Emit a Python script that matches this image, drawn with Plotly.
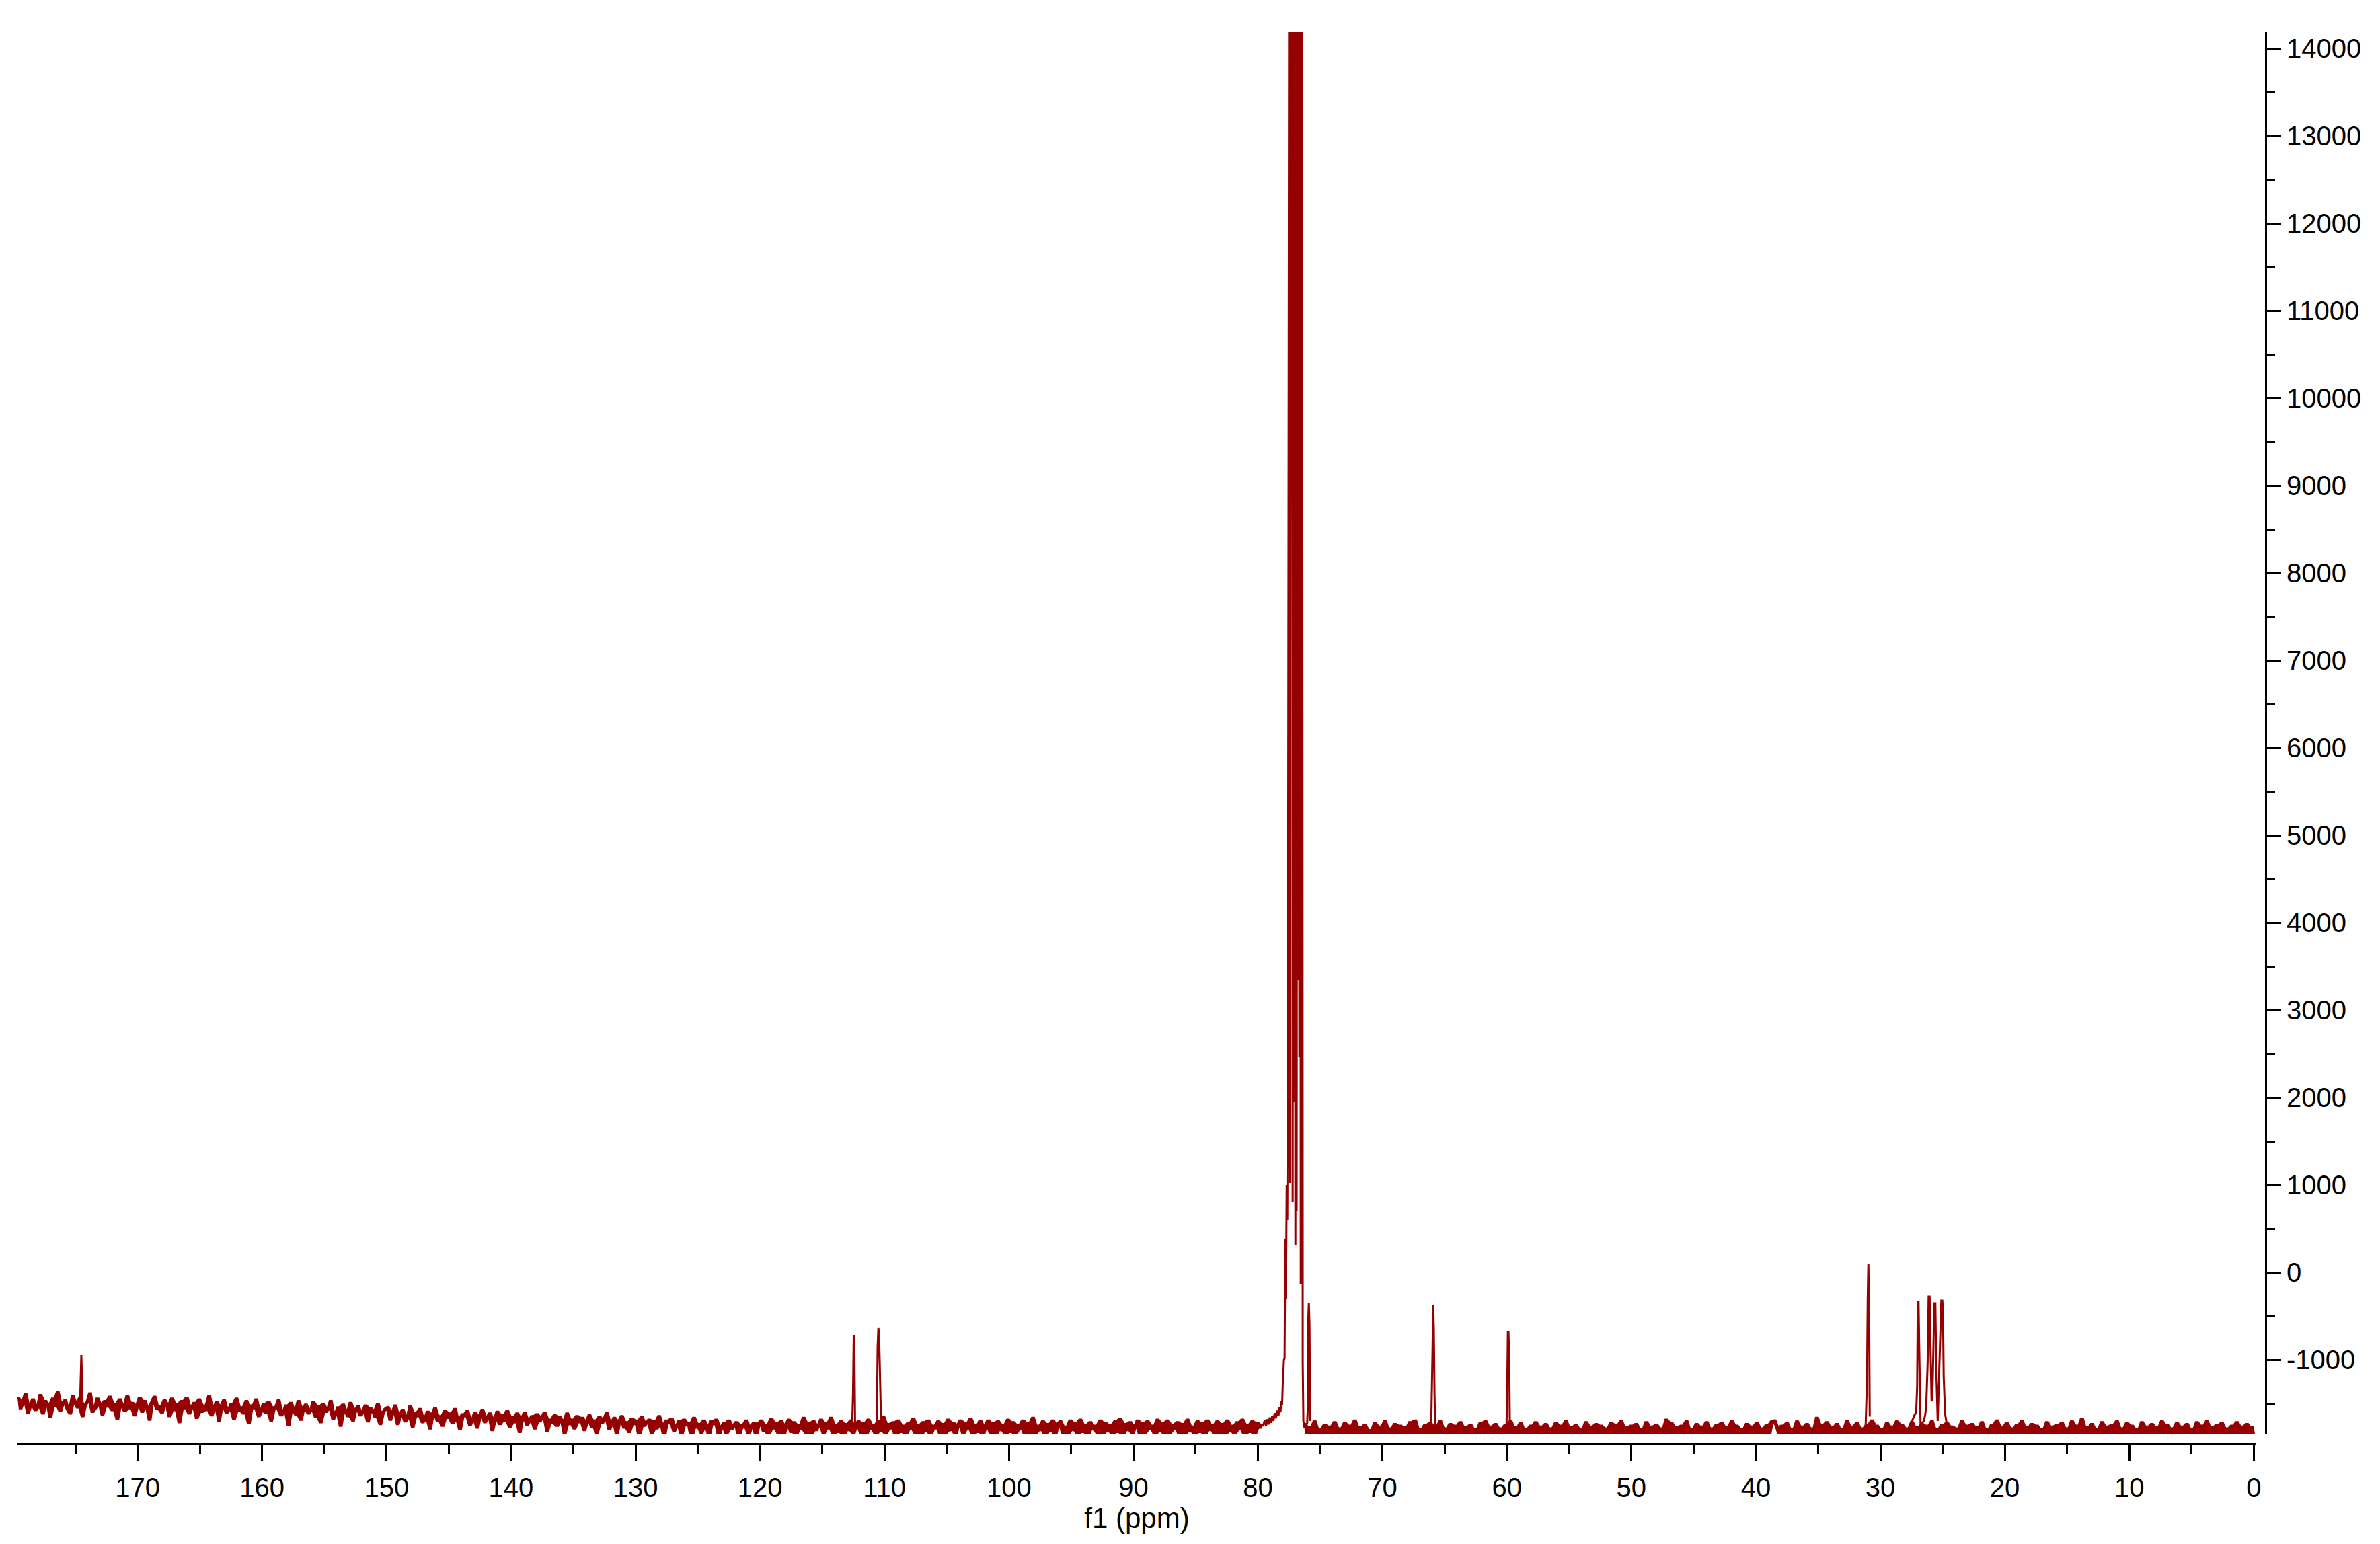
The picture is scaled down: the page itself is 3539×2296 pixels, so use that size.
import numpy as np
import plotly.graph_objects as go

# ---------------- data ----------------
# baseline noise samples, 179.6 -> 150.1 ppm
noise_a1 = [
    -1430, -1560, -1480, -1390, -1610, -1520, -1450, -1580, -1540, -1400, -1620, -1470, -1510, -1660, -1440, -1530, -1370, -1590, -1500, -1460,
    -1570, -1620, -1410, -1490, -1550, -1430, -1650, -1520, -1480, -1380, -1600, -1560, -1440, -1510, -1630, -1470, -1540, -1420, -1580, -1500,
    -1680, -1450, -1530, -1590, -1410, -1560, -1490, -1640, -1520, -1430, -1600, -1470, -1550, -1690, -1480, -1420, -1570, -1530, -1610, -1460,
    -1510, -1650, -1440, -1580, -1500, -1720, -1470, -1560, -1430, -1620, -1540, -1490, -1670, -1450, -1600, -1520, -1580, -1410, -1640, -1550,
    -1480, -1700, -1530, -1460, -1610, -1570, -1500, -1680, -1440, -1590, -1540, -1620, -1470, -1730, -1520, -1560, -1450, -1650, -1590, -1500,
    -1610, -1480, -1700, -1540, -1570, -1460, -1640, -1600, -1520, -1750, -1490, -1580, -1630, -1470, -1690, -1550, -1510, -1620, -1580, -1480,
    -1660, -1530, -1720, -1500, -1600, -1560, -1470, -1680, -1620, -1540, -1760, -1510, -1590, -1650, -1490, -1700, -1570, -1530, -1640, -1600,
    -1520, -1710, -1550, -1580, -1660, -1500, -1740, -1610, -1560,
]
# baseline noise samples, 149.9 -> 120.1 ppm
noise_a2 = [
    -1540, -1690, -1600, -1520, -1740, -1630, -1570, -1710, -1660, -1530, -1770, -1600, -1650, -1560, -1720, -1680, -1590, -1790, -1620, -1550,
    -1700, -1640, -1760, -1580, -1670, -1610, -1730, -1560, -1690, -1800, -1620, -1650, -1580, -1750, -1700, -1600, -1780, -1640, -1570, -1720,
    -1660, -1610, -1810, -1680, -1590, -1740, -1630, -1700, -1580, -1770, -1650, -1720, -1610, -1830, -1670, -1600, -1750, -1690, -1640, -1790,
    -1620, -1710, -1660, -1600, -1820, -1680, -1730, -1630, -1760, -1650, -1700, -1850, -1610, -1740, -1680, -1790, -1640, -1720, -1660, -1810,
    -1700, -1630, -1770, -1690, -1840, -1650, -1730, -1680, -1600, -1800, -1720, -1660, -1860, -1700, -1640, -1780, -1710, -1830, -1670, -1740,
    -1690, -1870, -1650, -1760, -1720, -1680, -1850, -1700, -1790, -1640, -1740, -1880, -1690, -1730, -1670, -1820, -1760, -1700, -1860, -1680,
    -1750, -1720, -1890, -1660, -1780, -1730, -1840, -1690, -1760, -1870, -1700, -1740, -1680, -1880, -1770, -1720, -1850, -1690, -1800, -1750,
    -1710, -1890, -1740, -1780, -1690, -1860, -1760, -1720, -1880, -1730,
]
# baseline noise samples, 119.9 -> 79.65 ppm
noise_a3 = [
    -1690, -1820, -1740, -1860, -1670, -1790, -1720, -1850, -1700, -1880, -1750, -1680, -1830, -1710, -1860, -1740, -1800, -1660, -1840, -1720,
    -1870, -1700, -1810, -1750, -1680, -1850, -1720, -1790, -1660, -1860, -1740, -1830, -1700, -1880, -1730, -1810, -1690, -1850, -1760, -1700,
    -1840, -1720, -1870, -1680, -1800, -1740, -1860, -1700, -1820, -1650, -1850, -1730, -1790, -1710, -1880, -1690, -1830, -1750, -1860, -1720,
    -1800, -1670, -1850, -1740, -1880, -1710, -1820, -1690, -1860, -1750, -1790, -1700, -1870, -1730, -1840, -1680, -1810, -1720, -1860, -1740,
    -1690, -1850, -1720, -1800, -1670, -1870, -1740, -1830, -1700, -1860, -1760, -1690, -1840, -1720, -1880, -1700, -1810, -1740, -1850, -1680,
    -1830, -1710, -1860, -1740, -1800, -1690, -1870, -1720, -1840, -1660, -1850, -1750, -1810, -1700, -1880, -1730, -1820, -1690, -1860, -1740,
    -1700, -1840, -1760, -1870, -1690, -1810, -1720, -1860, -1680, -1830, -1740, -1880, -1710, -1800, -1750, -1850, -1690, -1870, -1720, -1820,
    -1740, -1860, -1700, -1830, -1670, -1880, -1730, -1810, -1710, -1850, -1760, -1690, -1870, -1720, -1840, -1700, -1800, -1750, -1860, -1680,
    -1820, -1720, -1870, -1690, -1840, -1740, -1800, -1710, -1880, -1730, -1850, -1680, -1820, -1760, -1860, -1700, -1830, -1720, -1870, -1690,
    -1810, -1740, -1860, -1700, -1840, -1730, -1880, -1690, -1820, -1750, -1850, -1710, -1800, -1680, -1870, -1740, -1830, -1700, -1860, -1720,
    -1780, -1740,
]
# baseline noise samples, 76.25 -> 38.1 ppm
noise_b1 = [
    -1730, -1860, -1770, -1880, -1700, -1850, -1790, -1870, -1740, -1890, -1760, -1840, -1710, -1880, -1780, -1860, -1720, -1870, -1750, -1890,
    -1690, -1850, -1770, -1880, -1740, -1860, -1800, -1870, -1720, -1890, -1760, -1850, -1700, -1880, -1780, -1860, -1730, -1870, -1750, -1880,
    -1770, -1850, -1710, -1870, -1690, -1860, -1790, -1880, -1740, -1850, -1720, -1890, -1760, -1860, -1700, -1870, -1780, -1850, -1730, -1880,
    -1750, -1860, -1710, -1890, -1770, -1850, -1740, -1870, -1790, -1860, -1720, -1880, -1700, -1850, -1760, -1870, -1730, -1890, -1780, -1860,
    -1740, -1850, -1700, -1880, -1770, -1860, -1720, -1870, -1790, -1850, -1750, -1890, -1710, -1860, -1760, -1880, -1730, -1850, -1780, -1870,
    -1720, -1860, -1750, -1890, -1700, -1850, -1770, -1880, -1740, -1860, -1790, -1870, -1710, -1850, -1760, -1880, -1730, -1890, -1750, -1860,
    -1780, -1850, -1720, -1870, -1740, -1880, -1700, -1860, -1770, -1890, -1750, -1850, -1730, -1870, -1790, -1860, -1710, -1880, -1760, -1850,
    -1740, -1870, -1780, -1890, -1680, -1860, -1720, -1850, -1770, -1880, -1750, -1870, -1700, -1860, -1790, -1890, -1730, -1850, -1760, -1880,
    -1710, -1870, -1780, -1860, -1740, -1890, -1720, -1850, -1770, -1880, -1700, -1860, -1750, -1870, -1790, -1850, -1730, -1890, -1760, -1870,
    -1720, -1860, -1780, -1880, -1740, -1850, -1700, -1690, -1770, -1860,
]
# baseline noise samples, 37.9 -> -0.05 ppm
noise_b2 = [
    -1750, -1870, -1720, -1880, -1790, -1850, -1700, -1890, -1760, -1860, -1730, -1880, -1780, -1850, -1660, -1870, -1740, -1890, -1710, -1860,
    -1770, -1880, -1730, -1850, -1790, -1870, -1700, -1890, -1760, -1860, -1720, -1880, -1780, -1850, -1740, -1870, -1690, -1890, -1750, -1860,
    -1790, -1880, -1720, -1850, -1760, -1870, -1700, -1890, -1740, -1860, -1780, -1880, -1710, -1850, -1770, -1870, -1730, -1890, -1750, -1860,
    -1700, -1880, -1790, -1850, -1740, -1870, -1720, -1890, -1760, -1860, -1780, -1880, -1700, -1850, -1750, -1870, -1730, -1890, -1770, -1860,
    -1710, -1880, -1790, -1850, -1740, -1870, -1690, -1890, -1760, -1860, -1720, -1880, -1780, -1850, -1740, -1870, -1700, -1890, -1770, -1860,
    -1730, -1880, -1750, -1850, -1790, -1870, -1710, -1890, -1760, -1860, -1740, -1880, -1720, -1850, -1780, -1870, -1700, -1890, -1750, -1860,
    -1670, -1880, -1770, -1850, -1730, -1870, -1790, -1890, -1710, -1860, -1760, -1880, -1740, -1850, -1700, -1870, -1780, -1890, -1720, -1860,
    -1750, -1880, -1790, -1850, -1710, -1870, -1760, -1890, -1730, -1860, -1770, -1880, -1700, -1850, -1740, -1870, -1780, -1890, -1720, -1860,
    -1760, -1880, -1730, -1850, -1790, -1870, -1710, -1890, -1750, -1860, -1700, -1880, -1770, -1850, -1740, -1870, -1720, -1890, -1780, -1860,
    -1750, -1880, -1710, -1850, -1760, -1870, -1730, -1890, -1770, -1860,
]
# ppm spans of the noise arrays; a1..a3 and b1..b2 are contiguous stretches
noise_stretches = [
    [((179.60, 150.10), noise_a1), ((149.90, 120.10), noise_a2), ((119.90, 79.65), noise_a3)],
    [((76.25, 38.10), noise_b1), ((37.90, -0.05), noise_b2)],
]

# CDCl3 solvent multiplet and its wing
solvent_ppm = [79.65, 79.55, 79.45, 79.35, 79.25, 79.15, 79.05, 78.95, 78.85, 78.75, 78.65, 78.55, 78.45, 78.35, 78.27,
               78.19, 78.12, 78.06, 78.01, 77.96, 77.91, 77.86, 77.80, 77.75, 77.69, 77.64, 77.59, 77.53, 77.48,
               77.43, 77.37, 77.32, 77.26, 77.21, 77.15, 77.10, 77.05, 76.99, 76.94, 76.89, 76.83, 76.78, 76.72,
               76.67, 76.61, 76.56, 76.51, 76.45, 76.40, 76.35, 76.25]
solvent_val = [-1760, -1740, -1690, -1760, -1680, -1740, -1660, -1720, -1640, -1700, -1610, -1670, -1580, -1640, -1540,
               -1600, -1470, -1520, -1300, -1190, -1000, -985, 377, -300, 1000, 600, 2500, 10138, 16500,
               1023, 16500, 11530, 16500, 800, 16500, 1954, 16500, 315, 16500, 700, 16500, 3338, 16500,
               2462, 16500, -130, 16500, 13177, -1040, -1700, -1780]

# sample peaks
peak_174_ppm = [174.62, 174.57, 174.52, 174.47, 174.42]
peak_174_val = [-1480, -1200, -946, -1220, -1540]
peak_112_ppm = [112.60, 112.53, 112.47, 112.42, 112.36]
peak_112_val = [-1760, -1400, -715, -862, -1780]
peak_110_ppm = [110.62, 110.55, 110.49, 110.44, 110.38, 110.33, 110.27]
peak_110_val = [-1740, -854, -638, -708, -1054, -1408, -1760]
peak_76_ppm = [76.05, 75.99, 75.96, 75.91, 75.86, 75.80]
peak_76_val = [-1740, -1546, -562, -354, -585, -1700]
peak_66_ppm = [66.08, 66.03, 65.98, 65.92, 65.87, 65.81, 65.76]
peak_66_val = [-1760, -1460, -960, -369, -646, -1408, -1760]
peak_60_ppm = [60.03, 59.98, 59.92, 59.87, 59.81, 59.76]
peak_60_val = [-1760, -1431, -685, -685, -1000, -1754]
peak_31_ppm = [31.18, 31.12, 31.07, 31.01, 30.96, 30.90, 30.85]
peak_31_val = [-1760, -1450, -1230, -300, 100, -460, -1650]
peak_26_ppm = [27.61, 27.28, 27.12, 27.04, 26.99, 26.93, 26.88, 26.77, 26.50, 26.39, 26.31, 26.20, 26.12, 26.04,
               25.98, 25.88, 25.80, 25.72, 25.66, 25.58, 25.50, 25.39, 25.29, 25.18, 25.10, 25.02, 24.97, 24.91,
               24.80, 24.64]
peak_26_val = [-1760, -1640, -1600, -1300, -338, -338, -823, -1740, -1700, -1625, -1523, -1040, -277, -277,
               -785, -1477, -1300, -585, -354, -354, -1154, -1700, -1215, -815, -323, -323, -430, -1190,
               -1615, -1760]

x_tick_vals = [0, 10, 20, 30, 40, 50, 60, 70, 80, 90, 100, 110, 120, 130, 140, 150, 160, 170]
x_tick_text = [str(v) for v in x_tick_vals]
y_tick_vals = [-1000, 0, 1000, 2000, 3000, 4000, 5000, 6000, 7000, 8000, 9000, 10000, 11000, 12000, 13000, 14000]
y_tick_text = [str(v) for v in y_tick_vals]

RED = "#960000"
FONT = "Liberation Sans"

fig = go.Figure()

# noise: drawn as the vertical extent (min..max) of the signal between neighbouring samples,
# the way spectrometer software paints dense data -> a ragged filled band
for stretch in noise_stretches:
    p = np.concatenate([np.linspace(s, e, len(v)) for (s, e), v in stretch])
    v = np.concatenate([np.array(v, dtype=float) for _, v in stretch])
    xmid = np.concatenate([[p[0]], (p[:-1] + p[1:]) / 2, [p[-1]]])
    top = np.concatenate([[v[0]], np.maximum(v[:-1], v[1:]), [v[-1]]])
    bot = np.concatenate([[v[0]], np.minimum(v[:-1], v[1:]), [v[-1]]])
    fig.add_trace(go.Scatter(x=xmid, y=top, mode="lines", line=dict(color=RED, width=2),
                             hoverinfo="skip", showlegend=False))
    fig.add_trace(go.Scatter(x=xmid, y=bot, mode="lines", line=dict(color=RED, width=2),
                             fill="tonexty", fillcolor=RED, hoverinfo="skip", showlegend=False))
    fig.add_trace(go.Scatter(x=p, y=v, mode="lines", line=dict(color=RED, width=2),
                             hoverinfo="skip", showlegend=False))

# peaks as lines
for gp, gv in [(solvent_ppm, solvent_val), (peak_174_ppm, peak_174_val), (peak_112_ppm, peak_112_val),
               (peak_110_ppm, peak_110_val), (peak_76_ppm, peak_76_val), (peak_66_ppm, peak_66_val),
               (peak_60_ppm, peak_60_val), (peak_31_ppm, peak_31_val), (peak_26_ppm, peak_26_val)]:
    fig.add_trace(go.Scatter(x=gp, y=gv, mode="lines", line=dict(color=RED, width=3),
                             hoverinfo="skip", showlegend=False))

W, H = 3539, 2296
ml, mr, mt, mb = 26, 170, 48, 149
pw, ph = W - ml - mr, H - mt - mb

fig.update_layout(
    width=W, height=H, autosize=False,
    margin=dict(l=ml, r=mr, t=mt, b=mb, pad=0, autoexpand=False),
    paper_bgcolor="white", plot_bgcolor="white",
    font=dict(family=FONT, size=40, color="black"),
    showlegend=False,
    xaxis=dict(
        range=[179.65, -0.2], domain=[0, (3355 - ml) / pw], anchor="free", position=0,
        showline=True, linecolor="black", linewidth=3, mirror=False,
        showgrid=False, zeroline=False,
        ticks="outside", ticklen=24, tickwidth=3, tickcolor="black",
        tickmode="array", tickvals=x_tick_vals, ticktext=x_tick_text,
        tickfont=dict(family=FONT, size=40, color="black"),
        ticklabelstandoff=5,
        minor=dict(ticks="outside", ticklen=13, tickwidth=3, tickcolor="black",
                   tickmode="linear", tick0=0, dtick=5, showgrid=False),
        title=dict(text="f1 (ppm)", font=dict(family=FONT, size=42, color="black"), standoff=0),
    ),
    yaxis=dict(
        range=[-1846, 14185], domain=[(2147 - 2132) / ph, 1], side="right", anchor="free", position=1,
        showline=True, linecolor="black", linewidth=3,
        showgrid=False, zeroline=False,
        ticks="outside", ticklen=21, tickwidth=3, tickcolor="black",
        tickmode="array", tickvals=y_tick_vals, ticktext=y_tick_text,
        tickfont=dict(family=FONT, size=40, color="black"),
        minor=dict(ticks="outside", ticklen=12, tickwidth=3, tickcolor="black",
                   tickmode="linear", tick0=0, dtick=500, showgrid=False),
    ),
)

fig.write_html("out.html", config={"displayModeBar": False},
               post_script="document.body.style.margin='0';document.body.style.overflow='hidden';")
